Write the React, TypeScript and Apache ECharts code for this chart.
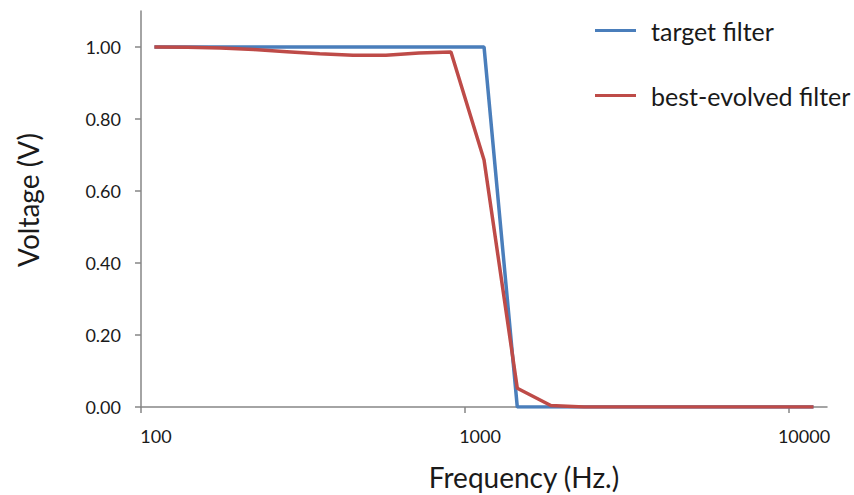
import React, { useEffect, useRef } from "react";
import * as echarts from "echarts";

const frequencies = [110, 139, 176, 223, 282, 356, 451, 570, 721, 905, 1145, 1450, 1840, 2330, 2950, 3730, 4720, 5970, 7550, 9550, 11900];
const targetFilter = [1, 1, 1, 1, 1, 1, 1, 1, 1, 1, 1, 0, 0, 0, 0, 0, 0, 0, 0, 0, 0];
const bestEvolved = [1.0, 0.999, 0.997, 0.993, 0.987, 0.981, 0.977, 0.977, 0.983, 0.986, 0.686, 0.052, 0.004, 0, 0, 0, 0, 0, 0, 0, 0];
const xTicks = [100, 1000, 10000];
const yTicks = [0, 0.2, 0.4, 0.6, 0.8, 1.0];
const seriesNames = ["target filter", "best-evolved filter"];

const FONT = "Lato";
const TEXT = "#1a1a1a";
const AXIS = "#868686";

export default function App() {
  const ref = useRef<HTMLDivElement>(null);
  useEffect(() => {
    if (!ref.current) return;
    const chart = echarts.init(ref.current, null, { renderer: "svg" });
    const pairs = (ys: number[]) => frequencies.map((f, i) => [f, ys[i]]);
    chart.setOption({
      animation: false,
      backgroundColor: "#ffffff",
      grid: { left: 141, right: 27, top: 11, bottom: 88, containLabel: false },
      xAxis: {
        type: "log",
        logBase: 10,
        min: 100,
        max: 13100,
        axisLine: { show: true, lineStyle: { color: AXIS, width: 1.5 } },
        axisTick: { show: true, length: 6, lineStyle: { color: AXIS, width: 1.5 }, customValues: xTicks },
        axisLabel: {
          customValues: xTicks,
          margin: 20,
          fontFamily: FONT,
          fontSize: 18,
          color: TEXT,
          padding: [0, 0, 0, 30],
          formatter: (v: number) => String(Math.round(v)),
        },
        splitLine: { show: false },
        minorTick: { show: false },
      },
      yAxis: {
        type: "value",
        min: 0,
        max: 1.1,
        axisLine: { show: true, lineStyle: { color: AXIS, width: 1.5 } },
        axisTick: { show: true, length: 6, lineStyle: { color: AXIS, width: 1.5 }, customValues: yTicks },
        axisLabel: {
          customValues: yTicks,
          margin: 20,
          fontFamily: FONT,
          fontSize: 18,
          color: TEXT,
          formatter: (v: number) => v.toFixed(2),
        },
        splitLine: { show: false },
      },
      legend: {
        orient: "vertical",
        left: 595,
        top: 18,
        padding: 0,
        itemWidth: 41,
        itemHeight: 3,
        itemGap: 40,
        icon: "rect",
        textStyle: { fontFamily: FONT, fontSize: 25, color: TEXT, padding: [0, 0, 0, 10] },
        data: seriesNames,
      },
      series: [
        {
          name: seriesNames[0],
          type: "line",
          data: pairs(targetFilter),
          showSymbol: false,
          symbol: "none",
          lineStyle: { color: "#4a7ebb", width: 3.5 },
          itemStyle: { color: "#4a7ebb" },
        },
        {
          name: seriesNames[1],
          type: "line",
          data: pairs(bestEvolved),
          showSymbol: false,
          symbol: "none",
          lineStyle: { color: "#be4b48", width: 3.5 },
          itemStyle: { color: "#be4b48" },
        },
      ],
      graphic: [
        {
          type: "text",
          x: 524,
          y: 477,
          style: { text: "Frequency (Hz.)", fontFamily: FONT, fontSize: 28, fill: TEXT, align: "center", verticalAlign: "middle" },
        },
        {
          type: "text",
          x: 28,
          y: 200,
          rotation: Math.PI / 2,
          style: { text: "Voltage (V)", fontFamily: FONT, fontSize: 28, fill: TEXT, align: "center", verticalAlign: "middle" },
        },
      ],
    });
    return () => chart.dispose();
  }, []);
  return <div ref={ref} style={{ width: 854, height: 495, position: "absolute", left: 0, top: 0 }} />;
}
